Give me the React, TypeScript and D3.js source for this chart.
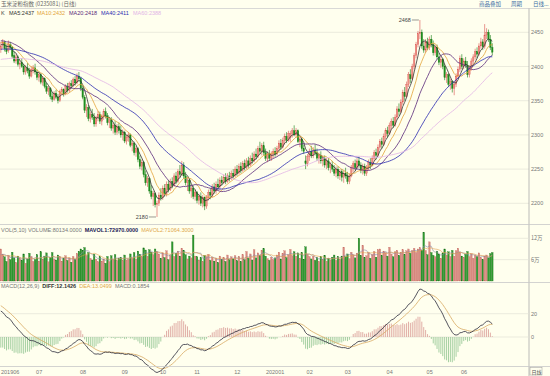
import React from 'react';
import * as d3 from 'd3';

// ---------- DATA ----------
const monthLabels = ['201906', '07', '08', '09', '10', '11', '12', '202001', '02', '03', '04', '05', '06'];
const monthBars = [18, 23, 22, 20, 18, 21, 22, 16, 20, 22, 21, 18, 18];
const priceTicks = [2450, 2400, 2350, 2300, 2250, 2200];
const volTickValues = [12, 6];
const volTickLabels = ['12万', '6万'];
const macdTicks = [20, 0];

// [open, high, low, close]
const ohlc: number[][] = [
  // 2019-06
  [2425, 2436, 2420, 2430], [2431, 2440, 2426, 2436], [2435, 2438, 2422, 2426], [2426, 2432, 2418, 2422], [2423, 2438, 2420, 2433], [2432, 2436, 2424, 2428],
  [2428, 2430, 2412, 2415], [2416, 2422, 2405, 2408], [2408, 2418, 2404, 2414], [2414, 2416, 2400, 2403], [2403, 2410, 2396, 2405], [2406, 2412, 2398, 2400],
  [2400, 2404, 2388, 2392], [2392, 2402, 2388, 2398], [2398, 2405, 2390, 2394], [2394, 2398, 2382, 2386], [2386, 2400, 2384, 2396], [2396, 2402, 2390, 2398],
  // 07
  [2398, 2404, 2388, 2392], [2392, 2396, 2380, 2384], [2384, 2392, 2378, 2388], [2388, 2390, 2374, 2377], [2377, 2386, 2372, 2382], [2382, 2384, 2368, 2371],
  [2371, 2376, 2360, 2364], [2364, 2372, 2358, 2368], [2368, 2370, 2352, 2356], [2356, 2362, 2348, 2352], [2352, 2364, 2350, 2361], [2361, 2366, 2352, 2355],
  [2355, 2360, 2346, 2350], [2350, 2366, 2348, 2363], [2363, 2370, 2358, 2366], [2366, 2368, 2356, 2360], [2360, 2374, 2358, 2371], [2371, 2376, 2362, 2365],
  [2365, 2378, 2362, 2375], [2375, 2380, 2368, 2372], [2372, 2384, 2370, 2381], [2381, 2386, 2372, 2376], [2376, 2390, 2374, 2386],
  // 08
  [2386, 2392, 2378, 2382], [2382, 2385, 2364, 2368], [2368, 2372, 2352, 2355], [2355, 2358, 2332, 2336], [2336, 2345, 2326, 2340], [2340, 2344, 2320, 2324],
  [2324, 2334, 2318, 2330], [2330, 2338, 2322, 2326], [2326, 2332, 2312, 2316], [2316, 2328, 2312, 2325], [2325, 2335, 2320, 2330], [2330, 2334, 2316, 2320],
  [2320, 2330, 2314, 2327], [2327, 2338, 2322, 2334], [2334, 2340, 2324, 2328], [2328, 2332, 2314, 2318], [2318, 2326, 2310, 2322], [2322, 2326, 2306, 2310],
  [2310, 2318, 2302, 2314], [2314, 2320, 2300, 2304], [2304, 2316, 2300, 2312], [2312, 2318, 2302, 2306],
  // 09
  [2306, 2314, 2296, 2300], [2300, 2308, 2292, 2304], [2304, 2306, 2288, 2291], [2291, 2300, 2286, 2296], [2296, 2304, 2290, 2300], [2300, 2302, 2282, 2285],
  [2285, 2292, 2276, 2288], [2288, 2290, 2270, 2274], [2274, 2284, 2268, 2280], [2280, 2282, 2260, 2264], [2264, 2270, 2250, 2254], [2254, 2264, 2248, 2260],
  [2260, 2262, 2238, 2242], [2242, 2248, 2226, 2230], [2230, 2240, 2224, 2236], [2236, 2238, 2214, 2218], [2218, 2226, 2206, 2210], [2210, 2218, 2196, 2214],
  [2214, 2216, 2194, 2198], [2198, 2204, 2180, 2200],
  // 10
  [2200, 2216, 2196, 2212], [2212, 2222, 2204, 2208], [2208, 2226, 2205, 2222], [2222, 2228, 2210, 2214], [2214, 2232, 2210, 2228], [2228, 2234, 2216, 2220],
  [2220, 2236, 2218, 2232], [2232, 2238, 2222, 2226], [2226, 2244, 2224, 2240], [2240, 2246, 2228, 2232], [2232, 2250, 2230, 2246], [2246, 2256, 2238, 2242],
  [2242, 2262, 2240, 2256], [2256, 2260, 2236, 2240], [2240, 2246, 2226, 2230], [2230, 2238, 2218, 2234], [2234, 2236, 2214, 2218], [2218, 2226, 2208, 2222],
  // 11
  [2222, 2226, 2206, 2210], [2210, 2220, 2204, 2216], [2216, 2218, 2200, 2204], [2204, 2214, 2198, 2210], [2210, 2216, 2196, 2200], [2200, 2212, 2194, 2208],
  [2208, 2210, 2190, 2196], [2196, 2212, 2192, 2208], [2208, 2220, 2204, 2216], [2216, 2222, 2206, 2212], [2212, 2228, 2208, 2224], [2224, 2230, 2214, 2218],
  [2218, 2232, 2214, 2228], [2228, 2236, 2220, 2224], [2224, 2238, 2220, 2234], [2234, 2240, 2226, 2230], [2230, 2242, 2228, 2238], [2238, 2244, 2228, 2232],
  [2232, 2244, 2230, 2240], [2240, 2246, 2232, 2236], [2236, 2248, 2234, 2244],
  // 12
  [2244, 2250, 2236, 2240], [2240, 2254, 2238, 2250], [2250, 2256, 2240, 2244], [2244, 2258, 2242, 2254], [2254, 2260, 2244, 2248], [2248, 2262, 2246, 2258],
  [2258, 2264, 2248, 2252], [2252, 2266, 2250, 2262], [2262, 2268, 2252, 2256], [2256, 2270, 2254, 2266], [2266, 2274, 2258, 2262], [2262, 2276, 2260, 2272],
  [2272, 2280, 2264, 2268], [2268, 2284, 2266, 2280], [2280, 2290, 2272, 2276], [2276, 2288, 2270, 2284], [2284, 2290, 2270, 2274], [2274, 2280, 2262, 2266],
  [2266, 2276, 2260, 2272], [2272, 2278, 2262, 2266], [2266, 2276, 2262, 2272], [2272, 2280, 2266, 2276],
  // 2020-01
  [2276, 2282, 2268, 2272], [2272, 2284, 2270, 2280], [2280, 2292, 2276, 2288], [2288, 2294, 2278, 2282], [2282, 2296, 2280, 2292], [2292, 2302, 2286, 2298],
  [2298, 2304, 2288, 2292], [2292, 2306, 2290, 2302], [2296, 2306, 2290, 2302], [2302, 2310, 2296, 2306], [2306, 2314, 2298, 2300], [2300, 2310, 2296, 2306],
  [2306, 2308, 2288, 2290], [2290, 2298, 2282, 2294], [2294, 2296, 2276, 2280], [2280, 2286, 2272, 2276],
  // 02
  [2262, 2270, 2250, 2258], [2258, 2272, 2254, 2268], [2268, 2280, 2262, 2276], [2276, 2284, 2266, 2270], [2270, 2282, 2266, 2278], [2278, 2286, 2270, 2274],
  [2274, 2280, 2262, 2266], [2266, 2274, 2258, 2270], [2270, 2276, 2258, 2262], [2262, 2270, 2254, 2266], [2266, 2270, 2252, 2256], [2256, 2266, 2250, 2262],
  [2262, 2266, 2248, 2252], [2252, 2260, 2244, 2256], [2256, 2262, 2246, 2250], [2250, 2256, 2240, 2244], [2244, 2254, 2238, 2250], [2250, 2254, 2236, 2240],
  [2240, 2250, 2234, 2246], [2246, 2250, 2232, 2238],
  // 03
  [2238, 2248, 2230, 2244], [2244, 2252, 2236, 2240], [2240, 2246, 2228, 2232], [2232, 2244, 2228, 2240], [2240, 2256, 2238, 2252], [2252, 2262, 2246, 2258],
  [2258, 2264, 2248, 2252], [2252, 2266, 2250, 2262], [2262, 2268, 2252, 2256], [2256, 2260, 2244, 2248], [2248, 2258, 2242, 2254], [2254, 2258, 2240, 2244],
  [2244, 2256, 2240, 2252], [2252, 2264, 2248, 2260], [2260, 2266, 2250, 2256], [2256, 2270, 2254, 2266], [2266, 2278, 2262, 2274], [2274, 2280, 2264, 2270],
  [2270, 2286, 2268, 2282], [2282, 2294, 2278, 2290], [2290, 2296, 2280, 2286], [2286, 2302, 2284, 2298],
  // 04
  [2298, 2310, 2294, 2306], [2306, 2312, 2296, 2302], [2302, 2318, 2300, 2314], [2314, 2324, 2308, 2320], [2320, 2326, 2310, 2314], [2314, 2330, 2312, 2326],
  [2326, 2342, 2322, 2338], [2338, 2346, 2328, 2334], [2334, 2352, 2332, 2348], [2348, 2366, 2344, 2362], [2362, 2370, 2350, 2356], [2356, 2378, 2354, 2374],
  [2374, 2392, 2370, 2388], [2388, 2396, 2376, 2382], [2382, 2404, 2380, 2400], [2400, 2420, 2396, 2416], [2416, 2436, 2412, 2432], [2432, 2452, 2428, 2448],
  [2448, 2468, 2440, 2450], [2450, 2454, 2426, 2430], [2430, 2440, 2420, 2424],
  // 05
  [2424, 2440, 2420, 2436], [2436, 2442, 2424, 2428], [2428, 2444, 2424, 2440], [2440, 2446, 2428, 2432], [2432, 2438, 2416, 2420], [2420, 2432, 2416, 2428],
  [2428, 2432, 2410, 2414], [2414, 2420, 2402, 2406], [2406, 2414, 2398, 2410], [2410, 2412, 2396, 2400], [2400, 2404, 2380, 2384], [2384, 2392, 2376, 2388],
  [2388, 2390, 2370, 2374], [2374, 2382, 2366, 2378], [2378, 2380, 2362, 2368], [2368, 2378, 2358, 2374], [2374, 2390, 2370, 2386], [2386, 2400, 2382, 2396],
  // 06
  [2396, 2416, 2392, 2412], [2412, 2418, 2396, 2400], [2400, 2412, 2396, 2408], [2408, 2414, 2398, 2402], [2402, 2408, 2384, 2388], [2388, 2402, 2384, 2398],
  [2398, 2412, 2394, 2408], [2408, 2418, 2402, 2414], [2414, 2426, 2410, 2422], [2422, 2428, 2412, 2418], [2418, 2434, 2416, 2430], [2430, 2442, 2426, 2436],
  [2436, 2440, 2424, 2429], [2429, 2462, 2426, 2446], [2446, 2456, 2440, 2450], [2450, 2454, 2436, 2440], [2440, 2446, 2424, 2428], [2428, 2434, 2416, 2421],
];

// volume in 万
const volumes: number[] = [
  9.0, 7.5, 6.8, 5.5, 7.2, 6.0, 8.1, 6.5, 5.2, 7.0, 6.3, 5.8, 7.6, 5.0, 6.2, 7.8, 6.9, 5.5,
  6.0, 7.4, 5.6, 8.2, 6.1, 7.0, 7.9, 5.4, 6.6, 8.0, 6.2, 5.9, 7.3, 6.8, 5.6, 6.4, 7.1, 5.8, 6.5, 5.3, 6.9, 6.0, 7.7,
  8.3, 9.0, 8.6, 9.4, 7.2, 8.0, 6.4, 5.9, 7.5, 6.1, 5.4, 6.8, 5.6, 6.2, 5.0, 6.9, 5.5, 7.1, 6.0, 7.4, 5.8, 6.3,
  6.6, 5.7, 7.3, 5.9, 6.1, 7.6, 6.4, 8.0, 6.2, 8.4, 7.5, 6.8, 9.3, 8.7, 7.0, 8.8, 8.1, 7.4, 9.0, 8.2,
  7.6, 6.4, 7.9, 6.6, 8.5, 6.0, 7.2, 11.0, 6.9, 7.8, 8.4, 7.0, 9.2, 8.6, 7.4, 6.2, 7.0, 6.5,
  12.9, 7.0, 6.8, 5.9, 6.6, 5.4, 7.2, 6.9, 7.5, 5.8, 6.7, 5.6, 6.3, 5.2, 7.0, 6.1, 6.6, 5.5, 7.3, 6.0, 6.8,
  6.2, 7.1, 5.7, 6.9, 5.5, 7.4, 6.0, 8.3, 6.4, 7.6, 5.9, 8.8, 6.5, 7.9, 7.2, 8.6, 9.1, 7.0, 6.3, 5.8, 6.7, 6.0,
  6.5, 7.3, 8.1, 6.2, 7.8, 8.5, 6.6, 7.4, 8.9, 7.1, 8.2, 7.0, 7.9, 6.4, 8.0, 6.1,
  9.6, 7.5, 6.9, 6.2, 7.0, 5.8, 6.6, 5.5, 6.8, 6.0, 7.2, 5.6, 6.4, 5.9, 6.7, 7.3, 5.8, 6.9, 6.1, 7.0,
  9.5, 6.8, 7.6, 6.3, 8.1, 7.4, 6.5, 7.8, 12.0, 7.2, 10.0, 6.6, 7.1, 8.0, 6.4, 7.5, 8.3, 6.7, 8.8, 9.0, 7.2, 8.4,
  8.0, 7.0, 9.5, 7.6, 6.8, 8.2, 8.6, 7.2, 8.0, 8.8, 7.4, 8.5, 9.0, 7.8, 8.6, 9.2, 8.0, 9.0, 9.4, 8.6, 13.7,
  8.6, 7.4, 11.0, 8.0, 7.2, 6.8, 8.4, 7.6, 6.4, 7.9, 9.0, 7.3, 8.2, 6.9, 8.6, 7.0, 8.5, 9.2,
  8.1, 7.0, 6.6, 7.5, 8.3, 6.9, 7.7, 6.4, 7.2, 6.8, 7.9, 6.6, 6.05, 7.0, 7.3, 6.5, 7.7, 8.0134,
];

const maPeriods = [5, 10, 20, 40, 60];
const maPriorMean = [2432, 2436, 2438, 2425, 2410];
const maColors = ['#333333', '#e3a43a', '#5a2a7a', '#2b2bb0', '#e2b4e6'];
const maNames = ['MA5:2437', 'MA10:2432', 'MA20:2418', 'MA40:2411', 'MA60:2388'];
const maLabelX = [9, 37, 69, 101, 133];
const volMaPeriods = [5, 10];
const volMaPrior = [7.0, 7.0];
const macdSeed = [2429, 2405, 28]; // ema12, ema26, dea before first bar

// ---------- HELPERS ----------
function movingAvg(vals: number[], n: number, prior: number) {
  return vals.map((_, i) => {
    let s = 0;
    for (let k = i - n + 1; k <= i; k++) s += k < 0 ? prior : vals[k];
    return s / n;
  });
}

const FONT = "'Liberation Sans', Arial, sans-serif";
const CJK = "'Noto Sans CJK SC', 'Liberation Sans', sans-serif";

export default function App() {
  const N = ohlc.length;
  const closes = ohlc.map((d) => d[3]);
  const x = d3.scaleLinear().domain([0, N - 1]).range([0.8, 0.8 + (N - 1) * 1.905]);
  const yP = d3.scaleLinear().domain([2200, 2450]).range([203.3, 32.3]);
  const yV = d3.scaleLinear().domain([0, 12]).range([281, 238.3]);
  const yM = d3.scaleLinear().domain([0, 20]).range([337, 313.7]);

  const mas = maPeriods.map((p, k) => movingAvg(closes, p, maPriorMean[k]));
  const vmas = volMaPeriods.map((p, k) => movingAvg(volumes, p, volMaPrior[k]));

  let e12 = macdSeed[0], e26 = macdSeed[1], dea = macdSeed[2];
  const macd = closes.map((c) => {
    e12 = (e12 * 11) / 13 + (c * 2) / 13;
    e26 = (e26 * 25) / 27 + (c * 2) / 27;
    const diff = e12 - e26;
    dea = dea * 0.8 + diff * 0.2;
    return { diff, dea, bar: 2 * (diff - dea) };
  });

  const lineP = d3.line<number>().x((_, i) => x(i)).y((v) => yP(v));
  const lineV = d3.line<number>().x((_, i) => x(i)).y((v) => yV(v));
  const lineM = d3.line<number>().x((_, i) => x(i)).y((v) => yM(v));

  const monthStarts: number[] = [];
  let acc = 0;
  monthBars.forEach((b) => { monthStarts.push(acc); acc += b; });

  let hiI = 0, loI = 0;
  ohlc.forEach((d, i) => { if (d[1] > ohlc[hiI][1]) hiI = i; if (d[2] < ohlc[loI][2]) loI = i; });

  const up = (d: number[]) => d[3] >= d[0];
  const bw = 1.5;
  const R = 529;

  return (
    <svg width={550} height={376} style={{ position: 'absolute', left: 0, top: 0 }} fontFamily={FONT}>
      <rect width={550} height={376} fill="#FFFFEE" />
      {/* header */}
      <text x={1} y={5.5} fontSize={5.5} fill="#666" fontFamily={CJK}>玉米淀粉指数 (0235081) (日线)</text>
      <text x={479} y={5.5} fontSize={5.5} fill="#3a6ea5" fontFamily={CJK}>商品叠加</text>
      <text x={511} y={5.5} fontSize={5.5} fill="#3a6ea5" fontFamily={CJK}>周期</text>
      <text x={533} y={5.5} fontSize={5.5} fill="#3a6ea5" fontFamily={CJK}>日线...</text>
      <line x1={0} x2={550} y1={8.5} y2={8.5} stroke="#cfcfcf" strokeWidth={0.8} />
      <text y={15} fontSize={5.5}>
        <tspan x={1} fill="#444">K</tspan>
        {maNames.map((n, k) => (
          <tspan key={k} x={maLabelX[k]} fill={maColors[k]}>{n}</tspan>
        ))}
      </text>

      {/* price grid */}
      {priceTicks.map((t) => (
        <g key={t}>
          <line x1={0} x2={R} y1={yP(t)} y2={yP(t)} stroke="#e2e2d6" strokeWidth={0.7} />
          <text x={531} y={yP(t) + 2} fontSize={5.5} fill="#777">{t}</text>
        </g>
      ))}
      <line x1={R} x2={R} y1={8.5} y2={376} stroke="#aaa" strokeWidth={0.8} />

      {/* candles */}
      {ohlc.map((d, i) => {
        const cx = x(i);
        const u = up(d);
        const col = u ? '#d9534f' : '#137a13';
        const top = yP(Math.max(d[0], d[3]));
        const bot = yP(Math.min(d[0], d[3]));
        return (
          <g key={i}>
            <line x1={cx} x2={cx} y1={yP(d[1])} y2={yP(d[2])} stroke={col} strokeWidth={0.6} />
            <rect x={cx - bw / 2} y={top} width={bw} height={Math.max(0.6, bot - top)}
              fill={u ? '#ec8f84' : '#1e8f1e'} stroke={col} strokeWidth={0.3} />
          </g>
        );
      })}
      {mas.map((m, k) => (
        <path key={k} d={lineP(m) || ''} fill="none" stroke={maColors[k]} strokeWidth={0.8} />
      ))}
      <line x1={x(hiI) - 8} x2={x(hiI) - 1} y1={yP(ohlc[hiI][1])} y2={yP(ohlc[hiI][1])} stroke="#555" strokeWidth={0.6} />
      <text x={x(hiI) - 9} y={yP(ohlc[hiI][1]) + 2} fontSize={5.5} fill="#444" textAnchor="end">{ohlc[hiI][1]}</text>
      <line x1={x(loI) - 8} x2={x(loI) - 1} y1={yP(ohlc[loI][2])} y2={yP(ohlc[loI][2])} stroke="#555" strokeWidth={0.6} />
      <text x={x(loI) - 9} y={yP(ohlc[loI][2]) + 2} fontSize={5.5} fill="#444" textAnchor="end">{ohlc[loI][2]}</text>

      {/* volume panel */}
      <line x1={0} x2={550} y1={224.5} y2={224.5} stroke="#c8c8c8" strokeWidth={0.8} />
      <text y={231.5} fontSize={5.5}>
        <tspan x={1} fill="#777">VOL(5,10) VOLUME:80134.0000</tspan>
        <tspan dx={3} fill="#222255" fontWeight="bold">MAVOL1:72970.0000</tspan>
        <tspan dx={3} fill="#e0a84a">MAVOL2:71064.3000</tspan>
      </text>
      {volTickValues.map((t, k) => (
        <g key={t}>
          <line x1={0} x2={R} y1={yV(t)} y2={yV(t)} stroke="#e2e2d6" strokeWidth={0.7} />
          <text x={531} y={yV(t) + 2} fontSize={5.5} fill="#777" fontFamily={CJK}>{volTickLabels[k]}</text>
        </g>
      ))}
      {volumes.map((v, i) => {
        const u = up(ohlc[i]);
        return (
          <rect key={i} x={x(i) - 0.8} y={yV(v)} width={1.6} height={yV(0) - yV(v)}
            fill={u ? '#d98a80' : '#2f9a2f'} stroke={u ? '#c87068' : '#17701a'} strokeWidth={0.3} />
        );
      })}
      <path d={lineV(vmas[0]) || ''} fill="none" stroke="#8a8aa8" strokeWidth={0.6} />
      <path d={lineV(vmas[1]) || ''} fill="none" stroke="#e0a050" strokeWidth={0.6} />

      {/* MACD panel */}
      <line x1={0} x2={550} y1={282.5} y2={282.5} stroke="#c8c8c8" strokeWidth={0.8} />
      <text y={287.5} fontSize={5.5}>
        <tspan x={1} fill="#777">MACD(12,26,9)</tspan>
        <tspan dx={3} fill="#333" fontWeight="bold">DIFF:12.1426</tspan>
        <tspan dx={3} fill="#e0a84a">DEA:13.0499</tspan>
        <tspan dx={3} fill="#777">MACD:0.1854</tspan>
      </text>
      {macdTicks.map((t) => (
        <g key={t}>
          <line x1={0} x2={R} y1={yM(t)} y2={yM(t)} stroke="#e2e2d6" strokeWidth={0.7} />
          <text x={531} y={yM(t) + 2} fontSize={5.5} fill="#777">{t}</text>
        </g>
      ))}
      {macd.map((m, i) => (
        <line key={i} x1={x(i)} x2={x(i)} y1={yM(0)} y2={yM(m.bar)}
          stroke={m.bar >= 0 ? '#d99a96' : '#8fc48f'} strokeWidth={0.8} />
      ))}
      <path d={lineM(macd.map((m) => m.dea)) || ''} fill="none" stroke="#d8aa62" strokeWidth={0.8} />
      <path d={lineM(macd.map((m) => m.diff)) || ''} fill="none" stroke="#2a2a3a" strokeWidth={0.8} />

      {/* x axis */}
      <line x1={0} x2={550} y1={366.5} y2={366.5} stroke="#c8c8c8" strokeWidth={0.8} />
      {monthStarts.map((s, k) => {
        const lab = monthLabels[k];
        const long = lab.length > 2 && k > 0;
        return (
          <text key={k} x={k === 0 ? 1 : x(s) + (long ? 0 : 1)} y={373.5} fontSize={5.5} fill="#777"
            textAnchor={long ? 'middle' : 'start'}>{lab}</text>
        );
      })}
      <rect x={530} y={367.5} width={12} height={7.5} fill="none" stroke="#999" strokeWidth={0.5} />
      <text x={531.5} y={373.5} fontSize={5} fill="#555" fontFamily={CJK}>日线</text>
    </svg>
  );
}
